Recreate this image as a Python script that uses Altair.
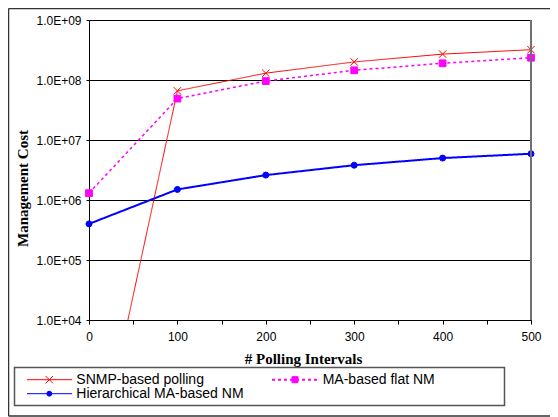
import altair as alt
import pandas as pd

# ---- data ----
intervals = [0, 100, 200, 300, 400, 500]
snmp_polling = [10, 6.6e7, 1.3e8, 2.0e8, 2.7e8, 3.2e8]
ma_flat = [1.3e6, 4.9e7, 9.6e7, 1.45e8, 1.9e8, 2.35e8]
hier_ma = [4.0e5, 1.5e6, 2.6e6, 3.8e6, 5.0e6, 5.9e6]

series_names = ["SNMP-based polling", "MA-based flat NM", "Hierarchical MA-based NM"]
x_ticks = [0, 50, 100, 150, 200, 250, 300, 350, 400, 450, 500]
y_ticks = [1e4, 1e5, 1e6, 1e7, 1e8, 1e9]

rows = []
for name, vals in zip(series_names, [snmp_polling, ma_flat, hier_ma]):
    for x, v in zip(intervals, vals):
        rows.append({"series": name, "interval": x, "cost": v})
df = pd.DataFrame(rows)

# ---- styles ----
colors = ["#FF0000", "#FF00FF", "#0000FF"]
dashes = [[1, 0], [3, 3], [1, 0]]
widths = [1, 2, 1]
shapes = ["M-1,-1L1,1M-1,1L1,-1", "square", "circle"]
sizes = [55, 36, 24]

W, H = 442, 300
SANS = "Liberation Sans"
SERIF = "Liberation Serif"

x_enc = alt.X("interval:Q", scale=alt.Scale(domain=[0, 500], nice=False),
              axis=alt.Axis(values=x_ticks, grid=False, tickSize=4, labelPadding=7,
                            labelExpr="datum.value % 100 == 0 ? datum.label : ''",
                            labelFlush=False, labelOverlap=False,
                            title="# Polling Intervals", titleX=214, titleY=43,
                            titleBaseline="alphabetic"))
y_enc = alt.Y("cost:Q", scale=alt.Scale(type="log", domain=[1e4, 1e9], nice=False),
              axis=alt.Axis(values=y_ticks, grid=True, tickSize=3, labelPadding=5,
                            labelExpr="'1.0E+0' + round(log(datum.value) / LN10)",
                            labelFlush=False, labelOverlap=False,
                            title="Management Cost", titleX=-67, titleY=168,
                            titleAngle=270, titleAlign="center", titleBaseline="middle"))
color_scale = alt.Scale(domain=series_names, range=colors)

lines = alt.Chart(df).mark_line(clip=True).encode(
    x=x_enc, y=y_enc,
    color=alt.Color("series:N", scale=color_scale, legend=None),
    strokeDash=alt.StrokeDash("series:N", scale=alt.Scale(domain=series_names, range=dashes), legend=None),
    strokeWidth=alt.StrokeWidth("series:N", scale=alt.Scale(domain=series_names, range=widths), legend=None),
    detail="series:N",
)

points = alt.Chart(df).mark_point(filled=True, strokeWidth=1, opacity=1).encode(
    x="interval:Q", y="cost:Q",
    fill=alt.Fill("series:N", scale=color_scale, legend=None),
    stroke=alt.Stroke("series:N", scale=color_scale, legend=None),
    shape=alt.Shape("series:N", scale=alt.Scale(domain=series_names, range=shapes), legend=None),
    size=alt.Size("series:N", scale=alt.Scale(domain=series_names, range=sizes), legend=None),
).transform_filter("datum.cost >= 10000")

right_border = alt.Chart(df).mark_rule(color="#707070", strokeWidth=2).encode(
    x=alt.value(W), y=alt.value(0), y2=alt.value(H))

# outer frame (top, left, bottom)
frame_color = "#333333"
frame = [
    alt.Chart(pd.DataFrame({"k": [0]})).mark_rule(color=frame_color, strokeWidth=1.5).encode(
        x=alt.value(-80.5), x2=alt.value(470), y=alt.value(-11.5)),
    alt.Chart(pd.DataFrame({"k": [0]})).mark_rule(color=frame_color, strokeWidth=1.5).encode(
        x=alt.value(-80.5), y=alt.value(-11.5), y2=alt.value(396)),
    alt.Chart(pd.DataFrame({"k": [0]})).mark_rule(color=frame_color, strokeWidth=1.5).encode(
        x=alt.value(-80.5), x2=alt.value(470), y=alt.value(396)),
]

# custom legend
legend_box = alt.Chart(pd.DataFrame({"k": [0]})).mark_rect(
    fill="white", stroke="#555555", strokeWidth=1.5).encode(
    x=alt.value(-74.5), x2=alt.value(415.5), y=alt.value(347.5), y2=alt.value(385.5))

slots = [(-62, -17, -39.7, -12.7, 359.7), (183, 229, 206, 233.7, 359.7), (-62, -17, -39.7, -12.7, 373.7)]
legend_layers = [legend_box]
for i, name in enumerate(series_names):
    x0, x1, xm, xt, yy = slots[i]
    ld = pd.DataFrame({"label": [name]})
    legend_layers.append(alt.Chart(ld).mark_rule(
        color=colors[i], strokeWidth=widths[i], strokeDash=dashes[i]).encode(
        x=alt.value(x0), x2=alt.value(x1), y=alt.value(yy)))
    legend_layers.append(alt.Chart(ld).mark_point(
        shape=shapes[i], size=sizes[i], filled=True, fill=colors[i], stroke=colors[i],
        strokeWidth=1, opacity=1).encode(x=alt.value(xm), y=alt.value(yy)))
    legend_layers.append(alt.Chart(ld).mark_text(
        align="left", baseline="middle", font=SANS, fontSize=14, color="black").encode(
        x=alt.value(xt), y=alt.value(yy), text="label:N"))

chart = alt.layer(lines, points, right_border, *frame, *legend_layers).properties(
    width=W, height=H,
    padding={"left": 81, "top": 12, "right": 19, "bottom": 97},
    autosize=alt.AutoSizeParams(type="none"),
).configure_view(stroke=None).configure_axis(
    labelFont=SANS, labelFontSize=12, labelColor="black",
    tickColor="black", domainColor="black", domainWidth=1,
    gridColor="black", gridOpacity=1, gridWidth=1,
    titleFont=SERIF, titleFontSize=15, titleFontWeight="bold", titleColor="black",
)

chart.save("out.html", embed_options={"renderer": "svg", "actions": False})
